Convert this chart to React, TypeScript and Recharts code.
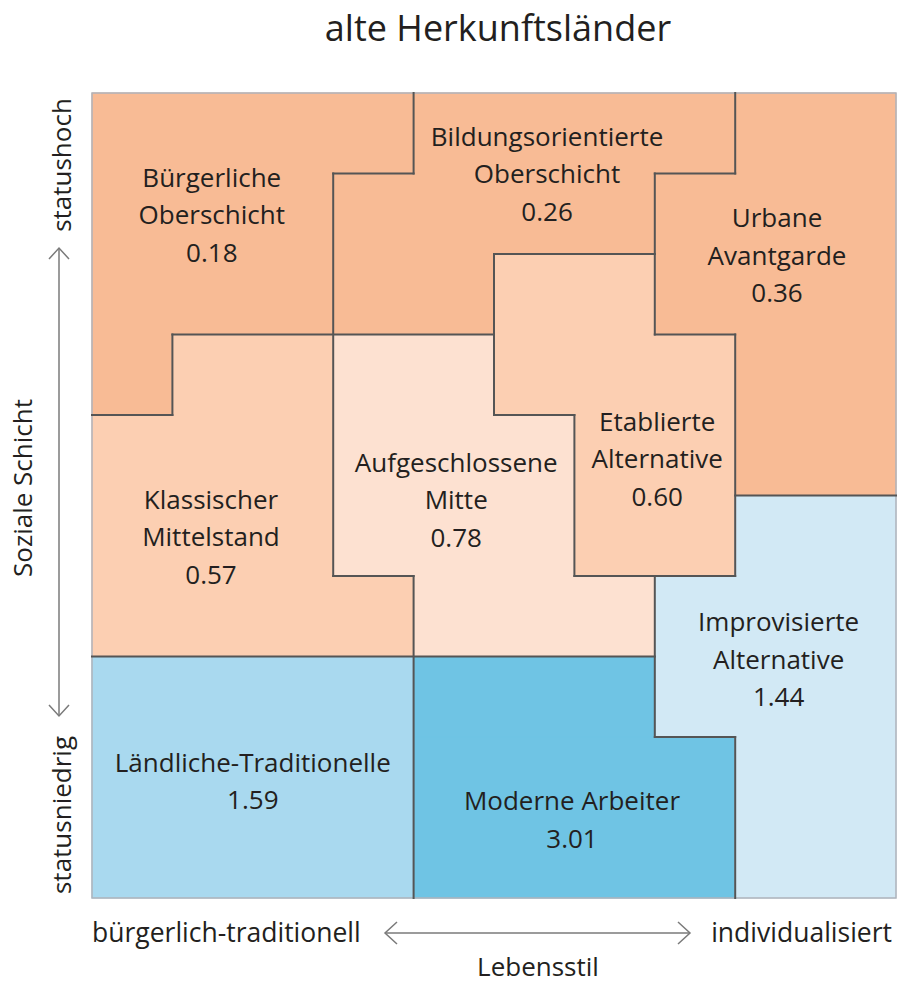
import { ComposedChart, XAxis, YAxis, Scatter, ReferenceArea, ReferenceLine } from "recharts"

// milieu ids, names, values
const MILIEU_IDS = ["B", "O", "U", "K", "A", "E", "L", "M", "I"]
const MILIEU_LINES = [
  ["Bürgerliche", "Oberschicht"],
  ["Bildungsorientierte", "Oberschicht"],
  ["Urbane", "Avantgarde"],
  ["Klassischer", "Mittelstand"],
  ["Aufgeschlossene", "Mitte"],
  ["Etablierte", "Alternative"],
  ["Ländliche-Traditionelle"],
  ["Moderne Arbeiter"],
  ["Improvisierte", "Alternative"],
]
const MILIEU_VALUES = [0.18, 0.26, 0.36, 0.57, 0.78, 0.6, 1.59, 3.01, 1.44]
const MILIEU_COLORS = [
  "#f8bb95", "#f8bb95", "#f8bb95",
  "#fccfb2", "#fde1d1", "#fccfb2",
  "#a9d9ef", "#6fc4e4", "#d2e9f5",
]
// label anchor in grid units (column, row)
const LABEL_COL = [1.49, 5.66, 8.52, 1.48, 4.53, 7.03, 2.0, 5.97, 8.54]
const LABEL_ROW = [1.52, 1.01, 2.02, 5.52, 5.06, 4.55, 8.55, 9.03, 7.04]

// 10x10 map of milieus, top row first
const GRID = [
  "BBBBOOOOUU",
  "BBBOOOOUUU",
  "BBBOOEEUUU",
  "BKKAAEEEUU",
  "KKKAAAEEUU",
  "KKKAAAEEII",
  "KKKKAAAIII",
  "LLLLMMMIII",
  "LLLLMMMMII",
  "LLLLMMMMII",
]

const FONT = "'Open Sans', sans-serif"
const TEXT = "#231f20"

const colorOf = (id: string) => MILIEU_COLORS[MILIEU_IDS.indexOf(id)]

// horizontal runs per row, then stacked when the same run repeats below
type Block = { x1: number; x2: number; y1: number; y2: number; id: string }
const blocks: Block[] = []
GRID.forEach((row, r) => {
  let start = 0
  for (let c = 1; c <= row.length; c++) {
    if (c === row.length || row[c] !== row[start]) {
      const prev = blocks.find(
        (b) => b.x1 === start && b.x2 === c && b.y2 === r && b.id === row[start]
      )
      if (prev) prev.y2 = r + 1
      else blocks.push({ x1: start, x2: c, y1: r, y2: r + 1, id: row[start] })
      start = c
    }
  }
})

// borders between different milieus, joined into straight runs
type Seg = { x1: number; y1: number; x2: number; y2: number }
const edges: Seg[] = []
for (let r = 1; r < GRID.length; r++) {
  let s = -1
  for (let c = 0; c <= 10; c++) {
    const diff = c < 10 && GRID[r - 1][c] !== GRID[r][c]
    if (diff && s < 0) s = c
    if (!diff && s >= 0) {
      edges.push({ x1: s, y1: r, x2: c, y2: r })
      s = -1
    }
  }
}
for (let c = 1; c < 10; c++) {
  let s = -1
  for (let r = 0; r <= GRID.length; r++) {
    const diff = r < GRID.length && GRID[r][c - 1] !== GRID[r][c]
    if (diff && s < 0) s = r
    if (!diff && s >= 0) {
      edges.push({ x1: c, y1: s, x2: c, y2: r })
      s = -1
    }
  }
}

const labels = MILIEU_IDS.map((id, i) => ({
  x: LABEL_COL[i],
  y: LABEL_ROW[i],
  lines: [...MILIEU_LINES[i], MILIEU_VALUES[i].toFixed(2)],
}))

const LabelShape = (props: any) => {
  const { cx, cy, payload } = props
  const lh = 37.5
  const top = cy - ((payload.lines.length - 1) * lh) / 2
  return (
    <text textAnchor="middle" fontFamily={FONT} fontSize={26} fill={TEXT}>
      {payload.lines.map((l: string, i: number) => (
        <tspan key={i} x={cx} y={top + i * lh + 9}>
          {l}
        </tspan>
      ))}
    </text>
  )
}

export default function App() {
  const gray = "#7a7a7a"
  return (
    <div style={{ position: "absolute", left: 0, top: 0, width: 897, height: 984, background: "#fff" }}>
      <ComposedChart
        width={897}
        height={984}
        data={labels}
        margin={{ top: 93, left: 92, right: 1, bottom: 86 }}
      >
        <XAxis type="number" dataKey="x" domain={[0, 10]} hide />
        <YAxis type="number" dataKey="y" domain={[0, 10]} reversed hide />
        {blocks.map((b, i) => (
          <ReferenceArea
            key={`blk-${i}`}
            x1={b.x1}
            x2={b.x2}
            y1={b.y1}
            y2={b.y2}
            fill={colorOf(b.id)}
            fillOpacity={1}
            stroke={colorOf(b.id)}
            strokeWidth={1}
            ifOverflow="visible"
          />
        ))}
        {edges.map((e, i) => (
          <ReferenceLine
            key={`edge-${i}`}
            segment={[
              { x: e.x1, y: e.y1 },
              { x: e.x2, y: e.y2 },
            ]}
            stroke="#555555"
            strokeWidth={2}
            strokeLinecap="square"
            ifOverflow="visible"
          />
        ))}
        <ReferenceArea
          x1={0}
          x2={10}
          y1={0}
          y2={10}
          fill="none"
          stroke="#aeb3ba"
          strokeWidth={1.5}
          ifOverflow="visible"
        />
        <Scatter dataKey="y" shape={LabelShape} isAnimationActive={false} />
      </ComposedChart>
      <svg
        width={897}
        height={984}
        style={{ position: "absolute", left: 0, top: 0, pointerEvents: "none" }}
        fontFamily={FONT}
        fill={TEXT}
      >
        <text x={498} y={41} textAnchor="middle" fontSize={36}>
          alte Herkunftsländer
        </text>
        {/* vertical axis */}
        <text transform="translate(71,165) rotate(-90)" textAnchor="middle" fontSize={26}>
          statushoch
        </text>
        <text transform="translate(71,815) rotate(-90)" textAnchor="middle" fontSize={26}>
          statusniedrig
        </text>
        <text transform="translate(32,488) rotate(-90)" textAnchor="middle" fontSize={26}>
          Soziale Schicht
        </text>
        <g stroke={gray} strokeWidth={1.5} fill="none">
          <line x1={59} y1={248} x2={59} y2={716} />
          <polyline points="49,259 59,248 69,259" />
          <polyline points="49,705 59,716 69,705" />
          <line x1={385} y1={933} x2={690} y2={933} />
          <polyline points="397,922 385,933 397,944" />
          <polyline points="678,922 690,933 678,944" />
        </g>
        {/* horizontal axis */}
        <text x={92} y={942} fontSize={26.5}>
          bürgerlich-traditionell
        </text>
        <text x={892} y={942} textAnchor="end" fontSize={26.5}>
          individualisiert
        </text>
        <text x={538} y={976} textAnchor="middle" fontSize={26}>
          Lebensstil
        </text>
      </svg>
    </div>
  )
}
